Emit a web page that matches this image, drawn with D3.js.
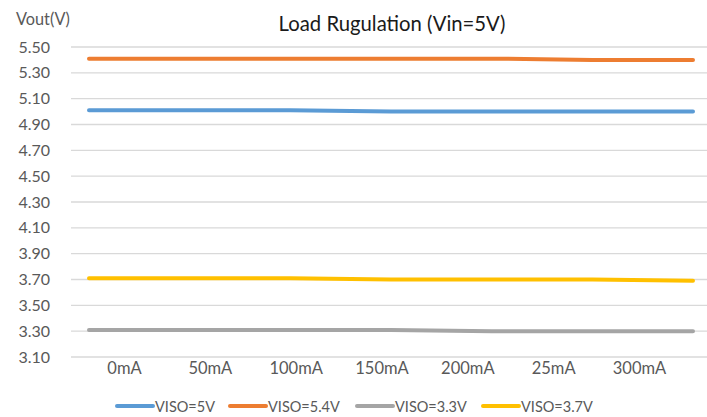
<!DOCTYPE html>
<html><head><meta charset="utf-8">
<script src="https://cdn.jsdelivr.net/npm/d3@7/dist/d3.min.js"></script>
<style>
html,body{margin:0;padding:0;background:#fff;}
svg{display:block;font-family:Lato,"Open Sans",sans-serif;}
</style></head>
<body>
<svg id="chart" width="707" height="417"></svg>
<script>
const categories = ["0mA","50mA","100mA","150mA","200mA","25mA","300mA"];
const visoFive   = [5.01,5.01,5.01,5.00,5.00,5.00,5.00];
const visoFiveFour = [5.41,5.41,5.41,5.41,5.41,5.40,5.40];
const visoThreeThree = [3.31,3.31,3.31,3.31,3.30,3.30,3.30];
const visoThreeSeven = [3.71,3.71,3.71,3.70,3.70,3.70,3.69];
const seriesNames = ["VISO=5V","VISO=5.4V","VISO=3.3V","VISO=3.7V"];
const seriesColors = ["#5b9bd5","#ed7d31","#a5a5a5","#ffc000"];
const yTicks = [3.10,3.30,3.50,3.70,3.90,4.10,4.30,4.50,4.70,4.90,5.10,5.30,5.50];
const titleText = "Load Rugulation (Vin=5V)";
const yAxisTitle = "Vout(V)";

const seriesValues = [visoFive, visoFiveFour, visoThreeThree, visoThreeSeven];
const svg = d3.select("#chart");

const y = d3.scaleLinear().domain([3.10,5.50]).range([357,47]);
const xLine = d3.scalePoint().domain(categories).range([89,693]);
const xLabel = d3.scalePoint().domain(categories).range([124,639]);

// gridlines
svg.append("g").selectAll("line").data(yTicks).join("line")
  .attr("x1",71).attr("x2",707)
  .attr("y1",d=>y(d)).attr("y2",d=>y(d))
  .attr("stroke","#d9d9d9").attr("stroke-width",1.3);

// y axis labels
const yAxis = d3.axisLeft(y).tickValues(yTicks).tickFormat(d3.format(".2f")).tickSize(0).tickPadding(0);
const gy = svg.append("g").attr("transform","translate(50,0)").call(yAxis);
gy.select(".domain").remove();
gy.selectAll("text").attr("fill","#595959").style("font-size","16px").style("font-family","Lato,sans-serif");

// x axis labels
const xAxis = d3.axisBottom(xLabel).tickSize(0).tickPadding(0);
const gx = svg.append("g").attr("transform","translate(0,362)").call(xAxis);
gx.select(".domain").remove();
gx.selectAll("text").attr("fill","#595959").style("font-size","16.5px").style("font-family","Lato,sans-serif");

// lines
const line = d3.line().x((d,i)=>xLine(categories[i])).y(d=>y(d));
svg.append("g").selectAll("path").data(seriesValues).join("path")
  .attr("d",d=>line(d)).attr("fill","none")
  .attr("stroke",(d,i)=>seriesColors[i]).attr("stroke-width",4)
  .attr("stroke-linecap","round").attr("stroke-linejoin","round");

// title
svg.append("text").attr("x",392).attr("y",30.5).attr("text-anchor","middle")
  .attr("fill","#1a1a1a").style("font-size","20.3px").text(titleText);
svg.append("text").attr("x",16).attr("y",25).attr("fill","#595959")
  .style("font-size","16.3px").text(yAxisTitle);

// legend
const legendX = [117,230,357,483];
const lg = svg.append("g").selectAll("g").data(seriesNames).join("g")
  .attr("transform",(d,i)=>`translate(${legendX[i]},406)`);
lg.append("line").attr("x1",0).attr("x2",36).attr("y1",0).attr("y2",0)
  .attr("stroke",(d,i)=>seriesColors[i]).attr("stroke-width",4).attr("stroke-linecap","round");
lg.append("text").attr("x",38).attr("y",5.5).attr("fill","#595959")
  .style("font-size","14.5px").text(d=>d);
</script>
</body></html>
